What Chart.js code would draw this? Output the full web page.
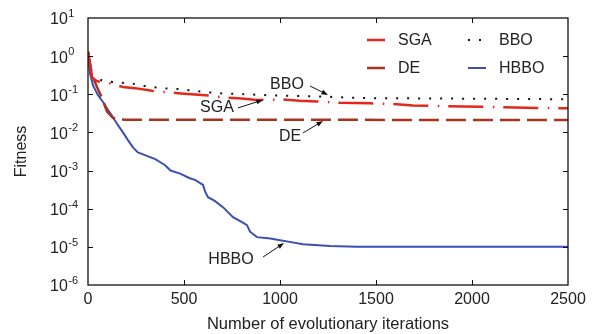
<!DOCTYPE html>
<html>
<head>
<meta charset="utf-8">
<script src="https://cdn.jsdelivr.net/npm/chart.js@4.4.1/dist/chart.umd.min.js"></script>
<style>
  html, body { margin: 0; padding: 0; background: #fff; }
</style>
</head>
<body>
<canvas id="fitnessChart" width="592" height="334"></canvas>
<script>
// values
const sgaIter = [0, 21, 40, 62, 104, 182, 245, 333, 391, 469, 609, 703, 800, 880, 1016, 1100, 1193, 1313, 1469, 1573, 1693, 1870, 2042, 2161, 2339, 2500];
const sgaFit = [1.3, 0.28, 0.23, 0.21, 0.2, 0.155, 0.145, 0.123, 0.115, 0.107, 0.095, 0.083, 0.077, 0.071, 0.073, 0.068, 0.065, 0.060, 0.058, 0.056, 0.051, 0.049, 0.047, 0.046, 0.044, 0.043];

const deIter = [0, 21, 47, 73, 99, 130, 160, 193, 2500];
const deFit = [1.3, 0.32, 0.155, 0.08, 0.035, 0.024, 0.022, 0.0215, 0.0212];

const bboIter = [0, 21, 73, 125, 177, 234, 271, 318, 375, 432, 490, 547, 600, 703, 828, 950, 1050, 1150, 1250, 1350, 1500, 1700, 1900, 2100, 2300, 2500];
const bboFit = [1.3, 0.32, 0.23, 0.21, 0.2, 0.19, 0.17, 0.16, 0.145, 0.14, 0.135, 0.125, 0.115, 0.105, 0.1, 0.094, 0.091, 0.089, 0.086, 0.082, 0.079, 0.078, 0.077, 0.076, 0.075, 0.074];

const hbboIter = [0, 10, 26, 52, 78, 104, 130, 156, 182, 208, 235, 260, 300, 350, 400, 430, 480, 530, 560, 599, 610, 625, 660, 703, 755, 800, 828, 844, 880, 950, 1000, 1050, 1120, 1200, 1260, 1400, 1750, 2500];
const hbboFit = [1.3, 0.36, 0.17, 0.095, 0.063, 0.039, 0.025, 0.0155, 0.01, 0.0063, 0.004, 0.003, 0.0025, 0.002, 0.0014, 0.001, 8.3e-4, 6.3e-4, 5.6e-4, 4.2e-4, 2.8e-4, 2.0e-4, 1.6e-4, 1.1e-4, 6e-5, 4.5e-5, 3.7e-5, 2.5e-5, 1.8e-5, 1.65e-5, 1.5e-5, 1.35e-5, 1.17e-5, 1.1e-5, 1.05e-5, 1.0e-5, 1.0e-5, 1.0e-5];

const xTicks = [0, 500, 1000, 1500, 2000, 2500];
const yExponents = [-6, -5, -4, -3, -2, -1, 0, 1];

const FONT = "'Liberation Sans', Arial, sans-serif";
const TEXT = '#222';

function pairs(xs, ys) {
    return xs.map((x, i) => ({ x: x, y: ys[i] }));
}

// labels with arrows: tip in data coords, text / arrow start relative to tip in px
const notes = [
    { text: 'BBO', tip: [1250, 0.096], tx: -41, ty: -10, sx: -18, sy: -9 },
    { text: 'SGA', tip: [911, 0.071], tx: -46, ty: 8, sx: -25, sy: 8 },
    { text: 'DE', tip: [1224, 0.02], tx: -33, ty: 16, sx: -20, sy: 12 },
    { text: 'HBBO', tip: [1021, 1.26e-5], tx: -53, ty: 17, sx: -21, sy: 14 }
];

const decorPlugin = {
    id: 'decor',
    afterDatasetsDraw(chart) {
        const ctx = chart.ctx;
        const a = chart.chartArea;
        const xs = chart.scales.x;
        const ys = chart.scales.y;
        ctx.save();

        // frame + inward ticks
        ctx.strokeStyle = '#111';
        ctx.lineWidth = 1.3;
        ctx.strokeRect(a.left, a.top, a.right - a.left, a.bottom - a.top);
        ctx.beginPath();
        xTicks.slice(1, -1).forEach(v => {
            const px = Math.round(xs.getPixelForValue(v)) + 0.5;
            ctx.moveTo(px, a.bottom); ctx.lineTo(px, a.bottom - 5);
            ctx.moveTo(px, a.top); ctx.lineTo(px, a.top + 5);
        });
        yExponents.slice(1, -1).forEach(e => {
            const py = Math.round(ys.getPixelForValue(Math.pow(10, e))) + 0.5;
            ctx.moveTo(a.left, py); ctx.lineTo(a.left + 5, py);
            ctx.moveTo(a.right, py); ctx.lineTo(a.right - 5, py);
        });
        ctx.lineWidth = 1;
        ctx.stroke();

        // y tick labels as 10 with superscript exponent
        ctx.fillStyle = TEXT;
        ctx.textBaseline = 'middle';
        ctx.textAlign = 'left';
        yExponents.forEach(e => {
            const py = ys.getPixelForValue(Math.pow(10, e));
            ctx.font = '16px ' + FONT;
            ctx.fillText('10', 50, py + 2);
            const w = ctx.measureText('10').width;
            ctx.font = '11px ' + FONT;
            ctx.fillText(String(e), 50 + w + 0.5, py - 4);
        });

        // legend, two columns
        const ds = chart.data.datasets;
        const cols = [a.right - 201, a.right - 100];
        const rows = [a.top + 22, a.top + 50];
        const order = [0, 2, 1, 3];
        order.forEach((di, k) => {
            const d = ds[di];
            const x0 = cols[k % 2];
            const y0 = rows[Math.floor(k / 2)];
            ctx.beginPath();
            ctx.setLineDash(d.label === 'BBO' ? d.borderDash : []);
            ctx.strokeStyle = d.borderColor;
            ctx.lineWidth = d.borderWidth;
            ctx.moveTo(x0, y0);
            ctx.lineTo(x0 + 18, y0);
            ctx.stroke();
            ctx.setLineDash([]);
            ctx.font = '16px ' + FONT;
            ctx.fillStyle = TEXT;
            ctx.textAlign = 'left';
            ctx.fillText(d.label, x0 + 31, y0 + 1);
        });

        // arrows with labels
        notes.forEach(n => {
            const tipX = xs.getPixelForValue(n.tip[0]);
            const tipY = ys.getPixelForValue(n.tip[1]);
            const sx = tipX + n.sx, sy = tipY + n.sy;
            const ang = Math.atan2(tipY - sy, tipX - sx);
            ctx.strokeStyle = '#111';
            ctx.fillStyle = '#111';
            ctx.lineWidth = 1;
            ctx.beginPath();
            ctx.moveTo(sx, sy);
            ctx.lineTo(tipX - 5 * Math.cos(ang), tipY - 5 * Math.sin(ang));
            ctx.stroke();
            ctx.beginPath();
            ctx.moveTo(tipX, tipY);
            ctx.lineTo(tipX - 7 * Math.cos(ang - 0.35), tipY - 7 * Math.sin(ang - 0.35));
            ctx.lineTo(tipX - 7 * Math.cos(ang + 0.35), tipY - 7 * Math.sin(ang + 0.35));
            ctx.closePath();
            ctx.fill();
            ctx.font = '16px ' + FONT;
            ctx.fillStyle = TEXT;
            ctx.textAlign = 'center';
            ctx.fillText(n.text, tipX + n.tx, tipY + n.ty);
        });

        ctx.restore();
    }
};

const ctx = document.getElementById('fitnessChart').getContext('2d');
const fitnessChart = new Chart(ctx, {
    type: 'line',
    data: {
        datasets: [
            { label: 'SGA', data: pairs(sgaIter, sgaFit), borderColor: '#e3281c', borderWidth: 2.5, borderDash: [35, 9.5, 1.5, 9] },
            { label: 'DE', data: pairs(deIter, deFit), borderColor: '#a8341f', borderWidth: 2.5, borderDash: [20, 7] },
            { label: 'BBO', data: pairs(bboIter, bboFit), borderColor: '#111', borderWidth: 2, borderDash: [2, 9] },
            { label: 'HBBO', data: pairs(hbboIter, hbboFit), borderColor: '#3c4fb4', borderWidth: 2 }
        ]
    },
    options: {
        responsive: false,
        animation: false,
        layout: { padding: { left: 0, right: 24, top: 18, bottom: 0 } },
        elements: { point: { radius: 0 }, line: { tension: 0, fill: false } },
        plugins: { legend: { display: false }, tooltip: { enabled: false } },
        scales: {
            x: {
                type: 'linear',
                min: 0,
                max: 2500,
                afterBuildTicks: s => { s.ticks = xTicks.map(v => ({ value: v })); },
                afterFit: s => { s.height = 49; },
                grid: { display: false, drawTicks: false },
                border: { display: false },
                ticks: { padding: 5, color: TEXT, font: { family: FONT, size: 16 }, maxRotation: 0, callback: v => String(v) },
                title: { display: true, text: 'Number of evolutionary iterations', color: TEXT, font: { family: FONT, size: 16.5 }, padding: { top: 0, bottom: 0 } }
            },
            y: {
                type: 'logarithmic',
                min: 1e-6,
                max: 10,
                afterBuildTicks: s => { s.ticks = yExponents.map(e => ({ value: Math.pow(10, e) })); },
                afterFit: s => { s.width = 88; },
                grid: { display: false, drawTicks: false },
                border: { display: false },
                ticks: { callback: () => '' },
                title: { display: true, text: 'Fitness', color: TEXT, font: { family: FONT, size: 16 }, padding: { top: 12, bottom: 0 } }
            }
        }
    },
    plugins: [decorPlugin]
});
</script>
</body>
</html>
